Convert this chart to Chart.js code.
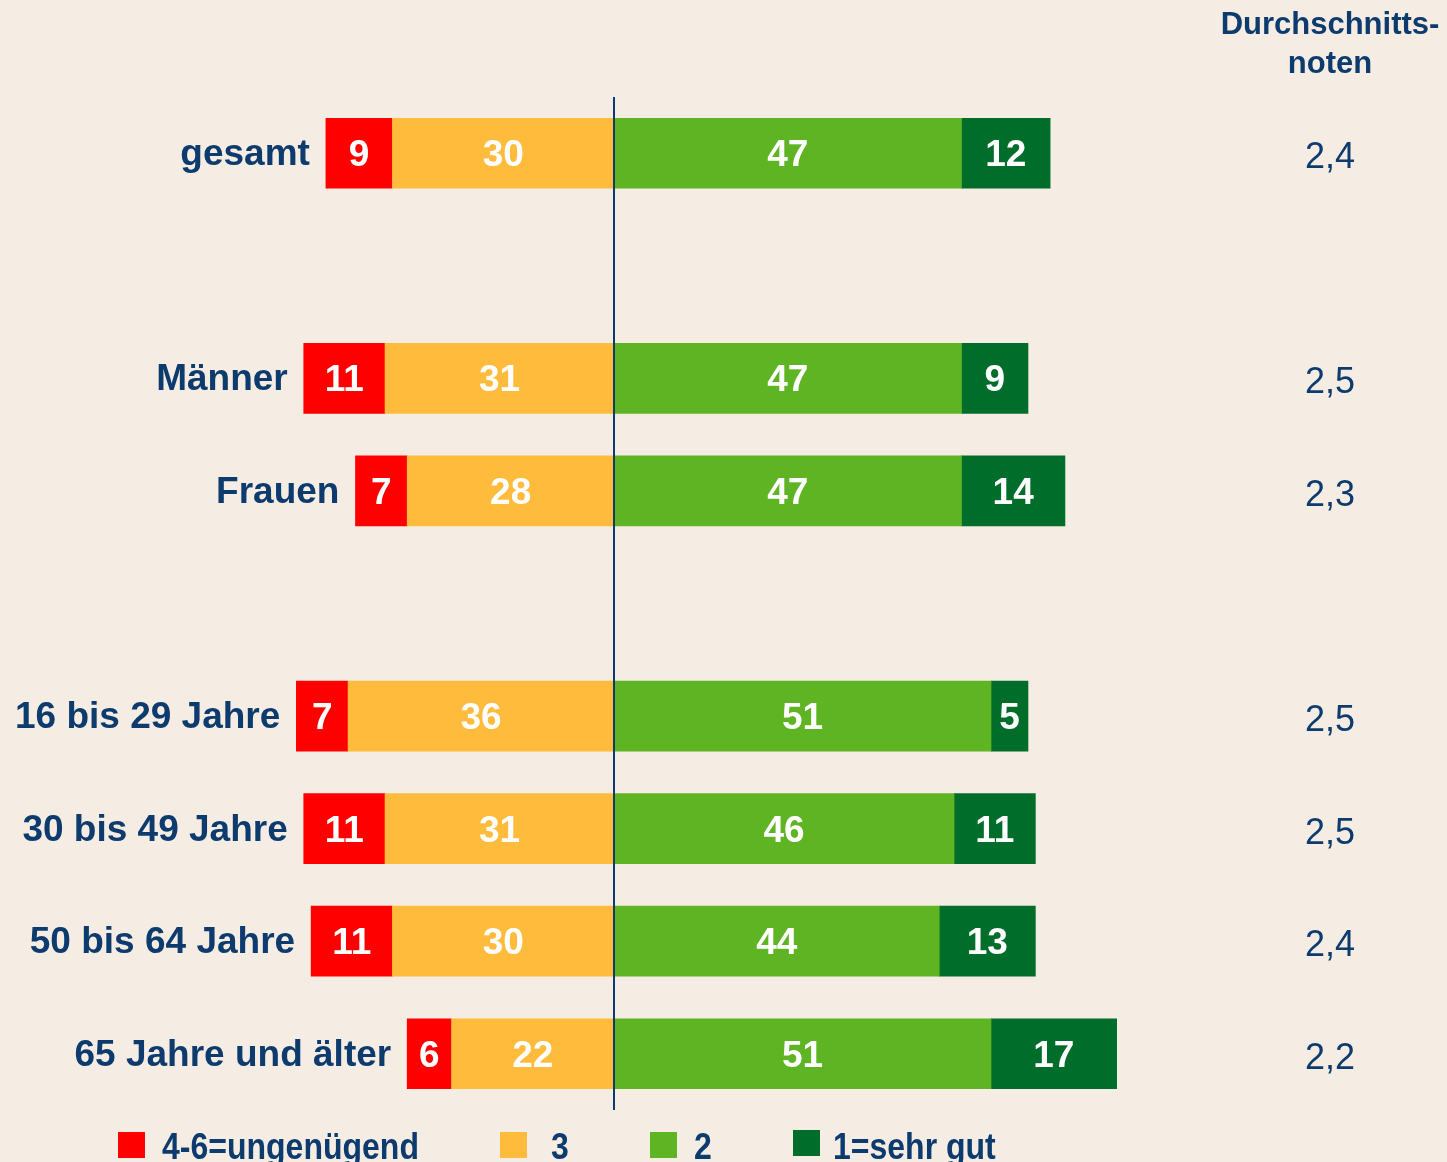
<!DOCTYPE html>
<html>
<head>
<meta charset="utf-8">
<script src="https://cdn.jsdelivr.net/npm/chart.js@4/dist/chart.umd.min.js"></script>
<style>
  html, body { margin: 0; padding: 0; background: #F5EDE3; }
  #wrap { width: 1447px; height: 1162px; position: relative; }
</style>
</head>
<body>
<div id="wrap"><canvas id="c" width="1447" height="1162"></canvas></div>
<script>
// ---- data ----
const categories = ["gesamt", "", "Männer", "Frauen", "", "16 bis 29 Jahre", "30 bis 49 Jahre", "50 bis 64 Jahre", "65 Jahre und älter"];
const ungenuegend = [9, null, 11, 7, null, 7, 11, 11, 6];   // 4-6
const note3       = [30, null, 31, 28, null, 36, 31, 30, 22];
const note2       = [47, null, 47, 47, null, 51, 46, 44, 51];
const note1       = [12, null, 9, 14, null, 5, 11, 13, 17];
const durchschnitt = ["2,4", null, "2,5", "2,3", null, "2,5", "2,5", "2,4", "2,2"];
const legendLabels = ["4-6=ungenügend", "3", "2", "1=sehr gut"];
const headerLines = ["Durchschnitts-", "noten"];

const BLUE = "#0D3B6E";
const COLORS = { red: "#FF0000", orange: "#FFBB3B", green: "#5FB424", dark: "#006E2A" };

const neg = a => a.map(v => v == null ? null : -v);

const overlay = {
  id: "overlay",
  afterDatasetsDraw(chart) {
    const ctx = chart.ctx;
    const x = chart.scales.x, y = chart.scales.y;
    const area = chart.chartArea;
    ctx.save();
    // value labels inside segments
    ctx.fillStyle = "#FFFFFF";
    ctx.font = "bold 37px 'Liberation Sans', Arial, sans-serif";
    ctx.textAlign = "center";
    ctx.textBaseline = "alphabetic";
    chart.data.datasets.forEach((ds, di) => {
      const meta = chart.getDatasetMeta(di);
      meta.data.forEach((el, i) => {
        const v = ds.data[i];
        if (v == null) return;
        const cx = (el.x + el.base) / 2;
        ctx.fillText(String(Math.abs(v)), cx, el.y + 13);
      });
    });
    // center line
    const zx = Math.round(x.getPixelForValue(0));
    ctx.strokeStyle = BLUE;
    ctx.lineWidth = 2;
    ctx.beginPath();
    ctx.moveTo(zx, area.top);
    ctx.lineTo(zx, area.bottom);
    ctx.stroke();
    // category labels to the left of each bar
    ctx.fillStyle = BLUE;
    ctx.textAlign = "right";
    ctx.font = "bold 37px 'Liberation Sans', Arial, sans-serif";
    categories.forEach((c, i) => {
      if (!c) return;
      const left = -((ungenuegend[i] || 0) + (note3[i] || 0));
      const px = x.getPixelForValue(left);
      const py = y.getPixelForValue(i);
      ctx.fillText(c, px - 16, py + 12);
    });
    // averages column
    ctx.textAlign = "center";
    ctx.font = "36px 'Liberation Sans', Arial, sans-serif";
    durchschnitt.forEach((d, i) => {
      if (!d) return;
      const py = y.getPixelForValue(i);
      ctx.fillText(d, 1330, py + 15);
    });
    // header
    ctx.font = "bold 31px 'Liberation Sans', Arial, sans-serif";
    ctx.fillText(headerLines[0], 1330, 34);
    ctx.fillText(headerLines[1], 1330, 73);
    // legend
    const legendColors = [COLORS.red, COLORS.orange, COLORS.green, COLORS.dark];
    const boxX = [118, 500, 650, 793];
    const textX = [162, 551, 694, 833];
    ctx.textAlign = "left";
    ctx.font = "bold 37px 'Liberation Sans', Arial, sans-serif";
    legendLabels.forEach((l, i) => {
      ctx.fillStyle = legendColors[i];
      ctx.fillRect(boxX[i], i === 3 ? 1130 : 1132, 27, 26);
      ctx.fillStyle = BLUE;
      ctx.save();
      ctx.translate(textX[i], 1159);
      ctx.scale(0.865, 1);
      ctx.fillText(l, 0, 0);
      ctx.restore();
    });
    ctx.restore();
  }
};

new Chart(document.getElementById("c"), {
  type: "bar",
  data: {
    labels: categories,
    datasets: [
      { label: legendLabels[1], data: neg(note3), backgroundColor: COLORS.orange },
      { label: legendLabels[0], data: neg(ungenuegend), backgroundColor: COLORS.red },
      { label: legendLabels[2], data: note2, backgroundColor: COLORS.green },
      { label: legendLabels[3], data: note1, backgroundColor: COLORS.dark }
    ]
  },
  options: {
    indexAxis: "y",
    responsive: false,
    animation: false,
    layout: { padding: { top: 97, bottom: 52, left: 0, right: 0 } },
    datasets: { bar: { barThickness: 70, borderWidth: 0 } },
    plugins: { legend: { display: false }, tooltip: { enabled: false } },
    scales: {
      x: { stacked: true, display: false, min: -83.1, max: 112.7 },
      y: { stacked: true, display: false }
    }
  },
  plugins: [overlay, {
    id: "bg",
    beforeDraw(chart) {
      const ctx = chart.ctx;
      ctx.save();
      ctx.fillStyle = "#F5EDE3";
      ctx.fillRect(0, 0, chart.width, chart.height);
      ctx.restore();
    }
  }]
});
</script>
</body>
</html>
